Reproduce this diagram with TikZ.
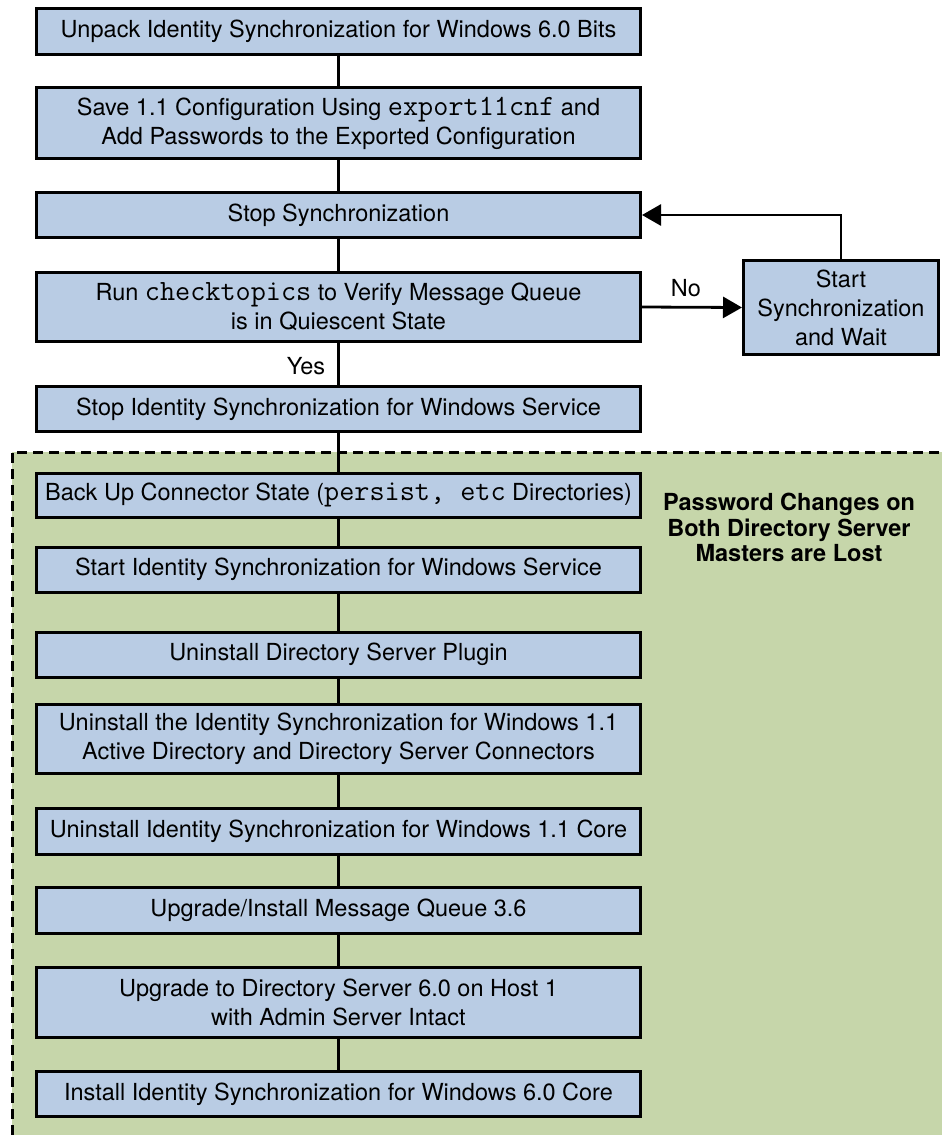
\documentclass[tikz,border=0pt]{standalone}
\usepackage{fontspec}
\setmainfont{TeX Gyre Heros}
\setmonofont{Latin Modern Mono}[Scale=1.25]
\usetikzlibrary{arrows.meta}
\definecolor{boxblue}{RGB}{185,204,228}
\definecolor{zonegreen}{RGB}{198,214,170}
\begin{document}
\begin{tikzpicture}[x=1pt,y=-1pt,
  stepbox/.style={draw=black, line width=3pt, fill=boxblue, minimum width=604pt,
    align=center, inner sep=0pt, font=\fontsize{23.5}{29}\selectfont},
  conn/.style={line width=2.8pt, draw=black},
  arr/.style={conn, -{Triangle[length=19pt,width=21pt]}},
  lbl/.style={font=\fontsize{23.5}{29}\selectfont, inner sep=0pt}]
\useasboundingbox (0,0) rectangle (942,1135);
% green zone
\fill[zonegreen] (12,452) rectangle (942,1135);
\draw[line width=3pt, dash pattern=on 10pt off 6pt] (12,1135) -- (12,452) -- (942,452);
% boxes
\node[stepbox, minimum height=46pt] (b1) at (338.5,31.5) {Unpack Identity Synchronization for Windows 6.0 Bits};
\node[stepbox, minimum height=71pt] (b2) at (338.5,123) {Save 1.1 Configuration Using \texttt{export11cnf} and\\Add Passwords to the Exported Configuration};
\node[stepbox, minimum height=45pt] (b3) at (338.5,215) {Stop Synchronization};
\node[stepbox, minimum height=69pt] (b4) at (338.5,307) {Run \texttt{checktopics} to Verify Message Queue\\is in Quiescent State};
\node[stepbox, minimum height=45pt] (b5) at (338.5,409) {Stop Identity Synchronization for Windows Service};
\node[stepbox, minimum height=44pt] (b6) at (338.5,495) {Back Up Connector State (\texttt{persist, etc} Directories)};
\node[stepbox, minimum height=45pt] (b7) at (338.5,569.5) {Start Identity Synchronization for Windows Service};
\node[stepbox, minimum height=45pt] (b8) at (338.5,654.5) {Uninstall Directory Server Plugin};
\node[stepbox, minimum height=69pt] (b9) at (338.5,739) {Uninstall the Identity Synchronization for Windows 1.1\\Active Directory and Directory Server Connectors};
\node[stepbox, minimum height=46pt] (b10) at (338.5,831.5) {Uninstall Identity Synchronization for Windows 1.1 Core};
\node[stepbox, minimum height=46pt] (b11) at (338.5,910.5) {Upgrade/Install Message Queue 3.6};
\node[stepbox, minimum height=70pt] (b12) at (338.5,1002.5) {Upgrade to Directory Server 6.0 on Host 1\\with Admin Server Intact};
\node[stepbox, minimum height=45pt] (b13) at (338.5,1094) {Install Identity Synchronization for Windows 6.0 Core};
\node[stepbox, minimum width=195pt, minimum height=94pt] (start) at (841,307.5) {Start\\Synchronization\\and Wait};
% connectors
\draw[conn] (b1) -- (b2);
\draw[conn] (b2) -- (b3);
\draw[conn] (b3) -- (b4);
\draw[conn] (b4) -- (b5);
\draw[conn] (b5) -- (b6);
\draw[conn] (b6) -- (b7);
\draw[conn] (b7) -- (b8);
\draw[conn] (b8) -- (b9);
\draw[conn] (b9) -- (b10);
\draw[conn] (b10) -- (b11);
\draw[conn] (b11) -- (b12);
\draw[conn] (b12) -- (b13);
\draw[arr] (b4.east) -- (start.west);
\draw[arr] (start.north) |- (b3.east);
% labels
\node[lbl] (no) at (686,288) {No};
\node[lbl] (yes) at (306,366) {Yes};
\node[lbl, align=center, font=\bfseries\fontsize{23.5}{25.5}\selectfont] (pw) at (789,527.5) {Password Changes on\\Both Directory Server\\Masters are Lost};
\end{tikzpicture}
\end{document}
